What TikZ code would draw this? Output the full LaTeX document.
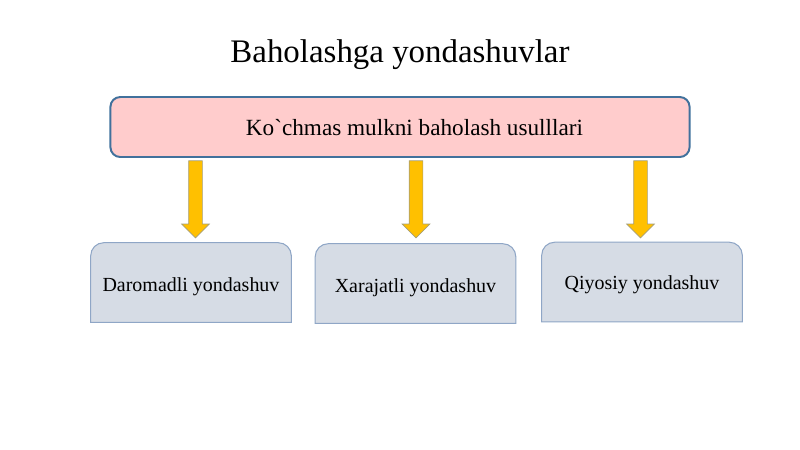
\documentclass[tikz,border=0pt]{standalone}
\usepackage{fontspec}
\setmainfont{Liberation Serif}[Ligatures=TeXOff]
\usetikzlibrary{shapes.arrows, calc}
\definecolor{boxpink}{HTML}{FFCCCC}
\definecolor{boxedge}{HTML}{41719C}
\definecolor{lowfill}{HTML}{D6DCE5}
\definecolor{lowline}{HTML}{8FA6C6}
\definecolor{arrowfill}{HTML}{FFC000}
\definecolor{arrowline}{HTML}{A59E78}
\tikzset{
  mainbox/.style={draw=boxedge, line width=1.4pt, fill=boxpink, rounded corners=7pt,
    minimum width=14.475cm, minimum height=1.5cm},
  maintext/.style={font=\fontsize{16.5}{19}\selectfont},
  lowbox/.style={minimum width=5cm, minimum height=1.975cm, inner sep=0pt},
  lowtext/.style={font=\fontsize{14.2}{17}\selectfont},
  lowoutline/.style={draw=lowline, fill=lowfill, line width=0.75pt},
  downarrow/.style={single arrow, draw=arrowline, fill=arrowfill, line width=0.5pt,
    inner xsep=0pt, inner ysep=0.1625cm, minimum height=1.925cm,
    single arrow head extend=0.175cm, rotate=-90, anchor=tail}
}

\begin{document}
\begin{tikzpicture}[x=0.025cm, y=-0.025cm]
\useasboundingbox (0,0) rectangle (800,449);

% Title
\node[anchor=base, font=\fontsize{23.4}{28}\selectfont] (title) at (400,62) {Baholashga yondashuvlar};

% Main box
\node[mainbox] (usul) at (400,127) {};
\node[maintext] (usul-t) at ($(usul.center)+(14.5,1)$) {Ko`chmas mulkni baholash usulllari};

% Lower boxes (outlines drawn below, rounded on top only)
\node[lowbox] (daromad) at (191,282.5) {};
\node[lowbox] (xarajat) at (415.5,283.5) {};
\node[lowbox] (qiyos) at (642,282) {};

\foreach \b in {daromad, xarajat, qiyos} {
  \draw[lowoutline] (\b.south west) [rounded corners=13*0.025cm] -- (\b.north west)
    -- (\b.north east) [sharp corners] -- (\b.south east) -- cycle;
}

\node[lowtext] (daromad-t) at ($(daromad.center)+(0,4)$) {Daromadli yondashuv};
\node[lowtext] (xarajat-t) at ($(xarajat.center)+(0,4)$) {Xarajatli yondashuv};
\node[lowtext] (qiyos-t) at ($(qiyos.center)+(0,3)$) {Qiyosiy yondashuv};

% Block arrows
\foreach \b/\dx in {daromad/4.5, xarajat/0.5, qiyos/-1.5} {
  \node[downarrow] (arr-\b) at ($(usul.south -| \b.north)+(\dx,2.5)$) {};
}

\end{tikzpicture}
\end{document}
